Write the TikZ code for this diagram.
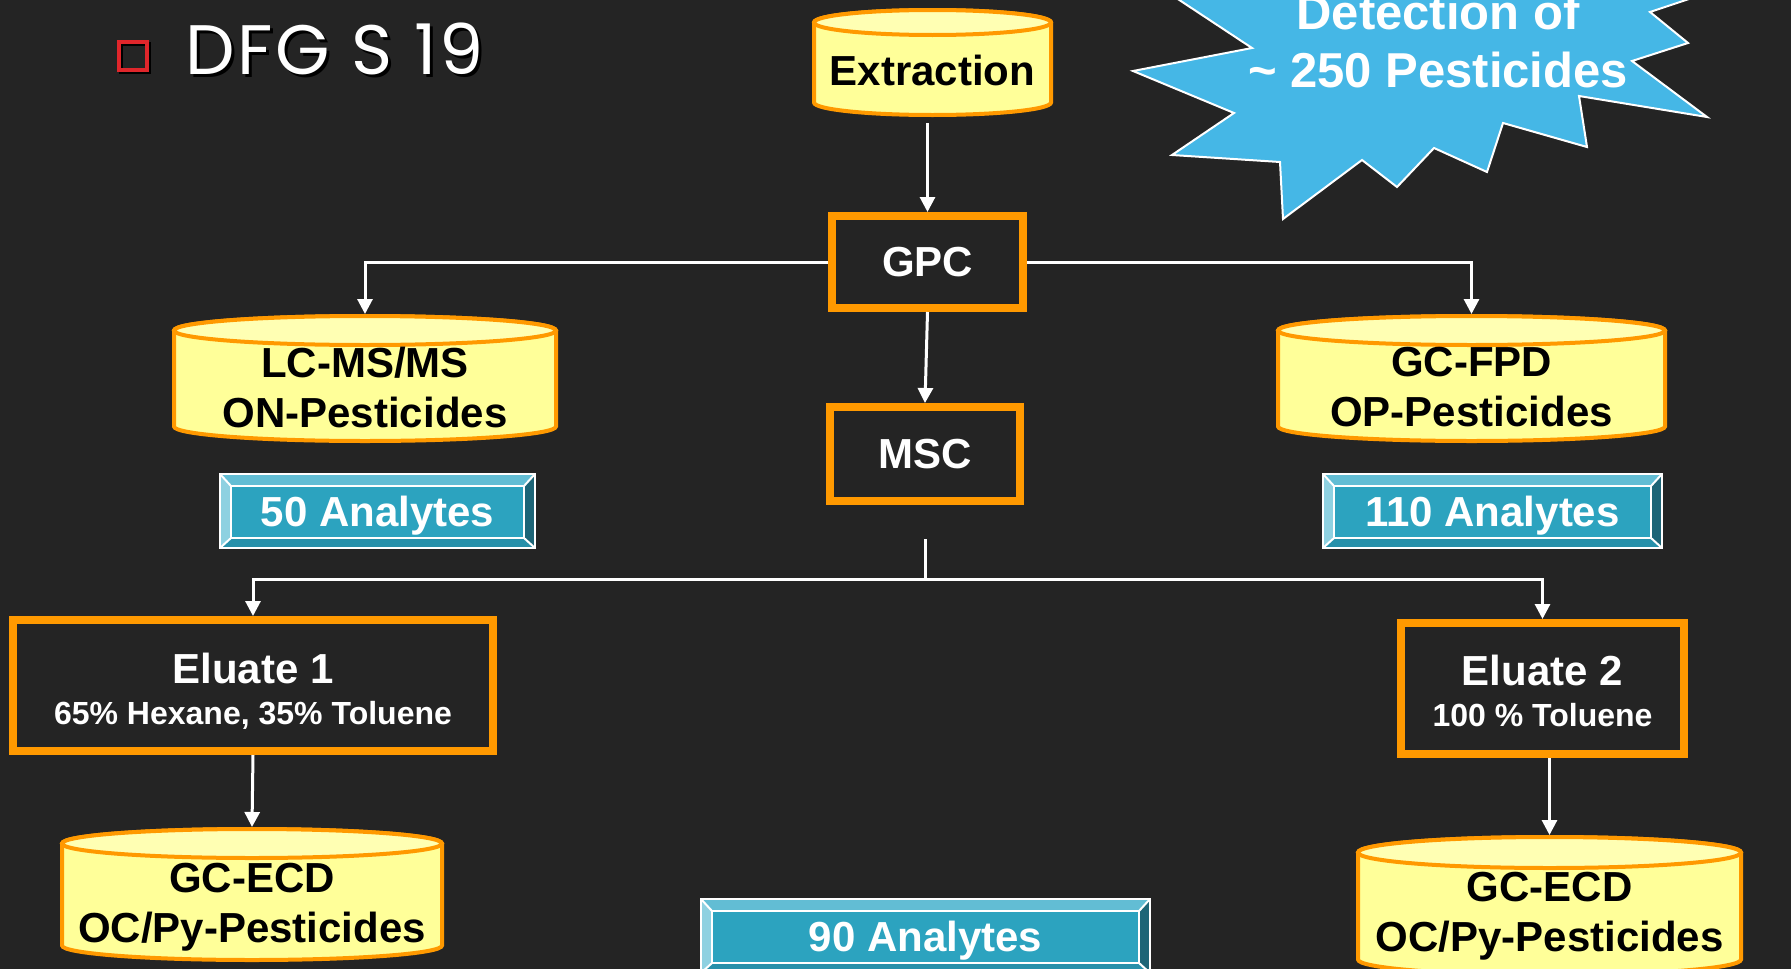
\documentclass[tikz,border=0pt]{standalone}
\usepackage{fontspec}
\setmainfont{Liberation Sans}
\newfontfamily\titlefont[LetterSpace=4]{Poppins}
\usetikzlibrary{arrows.meta}

\definecolor{slide}{HTML}{242424}
\definecolor{boxorange}{HTML}{FF9900}
\definecolor{drumyellow}{HTML}{FFFF99}
\definecolor{drumtop}{HTML}{FFFFB3}
\definecolor{burstblue}{HTML}{45B7E6}
\definecolor{countteal}{HTML}{2CA3BF}
\definecolor{bevlight}{HTML}{62BDD4}
\definecolor{bevpale}{HTML}{8ED1E1}
\definecolor{bevdark}{HTML}{1D6577}
\definecolor{bevmid}{HTML}{2690AA}
\definecolor{bulletred}{HTML}{E0262B}

% yellow instrument drum: name, cx, top, bottom, half width, rim, text y, text
\newcommand{\drumnode}[8]{%
	\filldraw[drum] (#2-#5,-#3-#6) -- (#2-#5,-#4+#6)
		arc[start angle=180, end angle=360, x radius=#5, y radius=#6]
		-- (#2+#5,-#3-#6)
		arc[start angle=0, end angle=180, x radius=#5, y radius=#6] -- cycle;
	\draw[drum, fill=drumtop] (#2,-#3-#6) ellipse [x radius=#5, y radius=#6];
	\coordinate (#1-top) at (#2,-#3+2);
	\coordinate (#1-bot) at (#2,-#4-2);
	\node[drumtext] (#1) at (#2,-#7) {#8};
}

% bevelled frame round an analyte count
\newcommand{\bevelframe}[1]{%
	\coordinate (#1-a) at ([shift={(11,-12)}]#1.north west);
	\coordinate (#1-b) at ([shift={(-11,-12)}]#1.north east);
	\coordinate (#1-c) at ([shift={(-11,10)}]#1.south east);
	\coordinate (#1-d) at ([shift={(11,10)}]#1.south west);
	\fill[bevlight] (#1.north west) -- (#1.north east) -- (#1-b) -- (#1-a) -- cycle;
	\fill[bevpale] (#1.north west) -- (#1-a) -- (#1-d) -- (#1.south west) -- cycle;
	\fill[bevdark] (#1.north east) -- (#1.south east) -- (#1-c) -- (#1-b) -- cycle;
	\fill[bevmid] (#1.south west) -- (#1-d) -- (#1-c) -- (#1.south east) -- cycle;
	\draw[bevline] (#1-a) rectangle (#1-c);
	\draw[bevline] (#1.north west) -- (#1-a) (#1.north east) -- (#1-b)
		(#1.south east) -- (#1-c) (#1.south west) -- (#1-d);
	\draw[bevline] (#1.north west) rectangle (#1.south east);
}

\begin{document}
\begin{tikzpicture}[x=1pt, y=1pt,
	flow/.style={draw=white, line width=3pt, -{Triangle[width=15pt,length=15pt]}},
	link/.style={draw=white, line width=3pt},
	stage/.style={draw=boxorange, line width=8pt, inner sep=0pt, text=white,
		align=center, font=\fontsize{42}{50}\selectfont\bfseries},
	drum/.style={fill=drumyellow, draw=boxorange, line width=4pt},
	drumtext/.style={align=center, inner sep=0pt, font=\fontsize{42}{50}\selectfont\bfseries},
	countbox/.style={fill=countteal, draw=white, line width=2pt, inner sep=0pt,
		outer sep=0pt, minimum height=74pt, text=white, text height=30.5pt,
		text depth=0pt, font=\fontsize{42}{50}\selectfont\bfseries},
	bevline/.style={draw=white, line width=2pt},
	bullet/.style={draw=bulletred, line width=4pt, minimum size=28pt, inner sep=0pt},
	heading/.style={anchor=base west, inner sep=0pt, font=\titlefont\fontsize{70}{80}\selectfont}]
\useasboundingbox (0,0) rectangle (1791,-969);
\fill[slide] (0,0) rectangle (1791,-969);

% title
\node[bullet, draw=black] (bulletshadow) at (135,-58) {};
\node[bullet] (bullet) at (133,-56) {};
\node[heading, text=black] (titleshadow) at (188,-77) {DFG S 19};
\node[heading, text=white] (title) at (185,-74) {DFG S 19};

% starburst
\filldraw[fill=burstblue, draw=white, line width=2pt] (1149,20) -- (1252,-48) -- (1133,-71)
	-- (1234,-113) -- (1172,-155) -- (1280,-162) -- (1283,-219) -- (1362,-160)
	-- (1397,-187) -- (1434,-148) -- (1487,-172) -- (1503,-123) -- (1587,-147)
	-- (1579,-96) -- (1707,-117) -- (1632,-61) -- (1688,-43) -- (1650,-12)
	-- (1746,20) -- cycle;
\node[text=white, align=center, inner sep=0pt, font=\fontsize{49}{58}\selectfont\bfseries]
	(burst) at (1438,-41) {Detection of\\\textasciitilde{} 250 Pesticides};

% stages
\drumnode{extract}{932.5}{10}{115}{118.5}{12.5}{70}{Extraction}
\node[stage, minimum width=191pt, minimum height=92pt] (gpc) at (927.5,-262) {GPC};
\node[stage, minimum width=190pt, minimum height=94pt] (msc) at (925,-454) {MSC};
\drumnode{lcms}{365}{316}{441}{191}{14.5}{387}{LC-MS/MS\\ON-Pesticides}
\drumnode{gcfpd}{1471.5}{316}{441}{193.5}{14.5}{387}{GC-FPD\\OP-Pesticides}
\node[countbox, minimum width=315pt] (n50) at (377.5,-511) {50 Analytes};
\bevelframe{n50}
\node[countbox, minimum width=339pt] (n110) at (1492.5,-511) {110 Analytes};
\bevelframe{n110}
\node[stage, minimum width=480pt, minimum height=131pt, font=\fontsize{32}{41}\selectfont\bfseries]
	(elu1) at (253,-685.5) {{\fontsize{42}{50}\selectfont\rule{0pt}{41pt}Eluate 1}\\65\% Hexane, 35\% Toluene};
\node[stage, minimum width=283pt, minimum height=131pt, font=\fontsize{32}{41}\selectfont\bfseries]
	(elu2) at (1542.5,-688.5) {{\fontsize{42}{50}\selectfont\rule{0pt}{36pt}Eluate 2}\\100 \% Toluene};
\drumnode{ecd1}{252}{829}{960}{190}{14.5}{907}{GC-ECD\\OC/Py-Pesticides}
\drumnode{ecd2}{1549.5}{837}{975}{191.5}{15.5}{916}{GC-ECD\\OC/Py-Pesticides}
\node[countbox, minimum width=449pt] (n90) at (925.5,-936) {90 Analytes};
\bevelframe{n90}

% connectors
\coordinate (split) at (925,-539);
\coordinate (fork) at (925,-579);
\draw[flow, shorten <=6pt] (gpc.north |- extract-bot) -- (gpc.north);
\draw[flow] (gpc.south) -- (msc.north);
\draw[flow] (gpc.west) -| (lcms-top);
\draw[flow] (gpc.east) -| (gcfpd-top);
\draw[link] (split) -- (fork);
\draw[flow] (fork) -| (elu1.north);
\draw[flow] (fork) -| (elu2.north);
\draw[flow] (elu1.south) -- (ecd1-top);
\draw[flow] (elu2.south -| ecd2-top) -- (ecd2-top);
\end{tikzpicture}
\end{document}
